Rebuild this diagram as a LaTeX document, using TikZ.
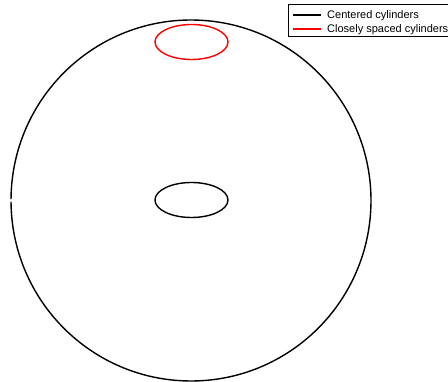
\documentclass[tikz,border=0pt]{standalone}
\usepackage{fontspec}
\setmainfont{Liberation Sans}
\usetikzlibrary{positioning}
\tikzset{
  wall/.style={draw=black,line width=1.4pt},
  inner/.style={draw=black,line width=1.4pt},
  close/.style={draw=red,line width=1.4pt},
  keyline/.style={line width=1.2pt},
  keytext/.style={font=\fontsize{11}{13}\selectfont,anchor=west,inner sep=0pt}
}
\begin{document}
\begin{tikzpicture}[x=1pt,y=-1pt]
  \useasboundingbox (0,0) rectangle (448,382);
  % outer cylinder, small gap where the curve starts
  \draw[wall] (191,200.5) ++(180.4:180 and 180.5) arc[start angle=180.4,end angle=539.6,x radius=180,y radius=180.5];
  % centered inner cylinder
  \draw[inner] (191.5,200) ellipse[x radius=36.5,y radius=17.5];
  % closely spaced inner cylinder
  \draw[close] (191.5,42) ellipse[x radius=36.5,y radius=17.5];

  % legend
  \draw[line width=0.8pt] (288,4) rectangle (460,36);
  \coordinate (k1a) at (293,15);
  \coordinate (k1b) at (321,15);
  \coordinate (k2a) at (293,29);
  \coordinate (k2b) at (321,29);
  \draw[keyline,black] (k1a) -- (k1b);
  \draw[keyline,red] (k2a) -- (k2b);
  \node[keytext] (cen) at (327,15.5) {Centered cylinders};
  \node[keytext] (clo) at (327,29.5) {Closely spaced cylinders};
\end{tikzpicture}
\end{document}
